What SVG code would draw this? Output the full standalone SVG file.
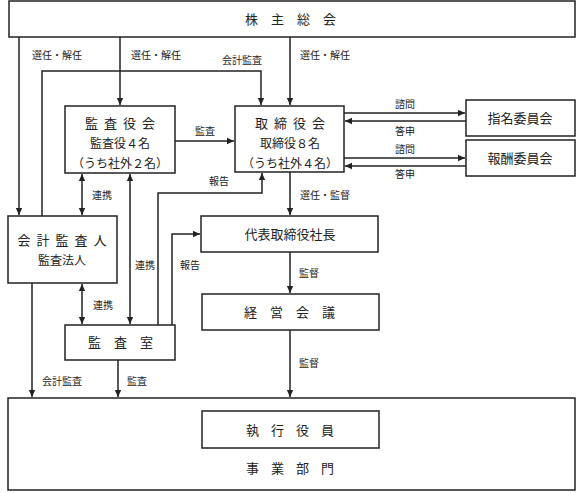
<svg xmlns="http://www.w3.org/2000/svg" width="576" height="493" viewBox="0 0 576 493">
<style>
.box{fill:#fff;stroke:#222;stroke-width:1.5}
.ln{fill:none;stroke:#222;stroke-width:1.5}
text{font-family:"Noto Sans CJK JP","Noto Sans",sans-serif;fill:#222}
.t{font-size:13px;text-anchor:middle}
.s{font-size:12px;text-anchor:middle}
.l{font-size:10px}
</style>
<defs>
<marker id="a" markerUnits="userSpaceOnUse" markerWidth="8" markerHeight="8" refX="7" refY="4" orient="auto-start-reverse">
<path d="M0,0.8 L7,4 L0,7.2 Z" fill="#222"/>
</marker>
</defs>
<rect width="576" height="493" fill="#fff"/>
<g id="kabunushi"><rect class="box" x="9" y="1" width="566" height="36"/><text class="t" x="297" y="24" letter-spacing="13">株主総会</text></g>
<g id="kansayakukai"><rect class="box" x="65" y="106" width="110" height="67"/><text class="t" x="123" y="128" letter-spacing="6">監査役会</text><text class="s" x="120" y="148">監査役４名</text><text class="s" x="120" y="168">（うち社外２名）</text></g>
<g id="torishimariyakukai"><rect class="box" x="235" y="106" width="109" height="66"/><text class="t" x="293" y="128" letter-spacing="6">取締役会</text><text class="s" x="290" y="148">取締役８名</text><text class="s" x="290" y="168">（うち社外４名）</text></g>
<g id="shimei"><rect class="box" x="466" y="100" width="109" height="36"/><text class="t" x="520" y="123">指名委員会</text></g>
<g id="hoshu"><rect class="box" x="466" y="140" width="109" height="36"/><text class="t" x="520" y="163">報酬委員会</text></g>
<g id="kaikeikansanin"><rect class="box" x="8" y="216" width="109" height="67"/><text class="t" x="65" y="245" letter-spacing="6">会計監査人</text><text class="s" x="62" y="265">監査法人</text></g>
<g id="daihyo"><rect class="box" x="201" y="216" width="177" height="36"/><text class="t" x="290" y="239">代表取締役社長</text></g>
<g id="keiei"><rect class="box" x="202" y="294" width="177" height="36"/><text class="t" x="296" y="317" letter-spacing="13">経営会議</text></g>
<g id="kansashitsu"><rect class="box" x="65" y="325" width="110" height="35"/><text class="t" x="127" y="347" letter-spacing="13">監査室</text></g>
<g id="jigyobumon"><rect class="box" x="8" y="398" width="567" height="92"/><rect class="box" x="202" y="411" width="177" height="37"/><text class="t" x="296" y="435" letter-spacing="12">執行役員</text><text class="t" x="296" y="473" letter-spacing="12">事業部門</text></g>
<g id="connectors" class="ln">
<path class="ln" d="M19,37 V215" marker-end="url(#a)"/>
<path class="ln" d="M120,37 V105" marker-end="url(#a)"/>
<path class="ln" d="M290,37 V105" marker-end="url(#a)"/>
<path class="ln" d="M42,216 V71 H261 V105" marker-end="url(#a)"/>
<path class="ln" d="M175,141 H234" marker-end="url(#a)"/>
<path class="ln" d="M344,113 H465" marker-end="url(#a)"/>
<path class="ln" d="M466,121 H345" marker-end="url(#a)"/>
<path class="ln" d="M344,158 H465" marker-end="url(#a)"/>
<path class="ln" d="M466,166 H345" marker-end="url(#a)"/>
<path class="ln" d="M290,172 V215" marker-end="url(#a)"/>
<path class="ln" d="M290,252 V293" marker-end="url(#a)"/>
<path class="ln" d="M290,330 V397" marker-end="url(#a)"/>
<path class="ln" d="M82,174 V215" marker-start="url(#a)" marker-end="url(#a)"/>
<path class="ln" d="M82,284 V324" marker-start="url(#a)" marker-end="url(#a)"/>
<path class="ln" d="M130,174 V324" marker-start="url(#a)" marker-end="url(#a)"/>
<path class="ln" d="M158,325 V193 H262 V173" marker-end="url(#a)"/>
<path class="ln" d="M172,325 V234 H200" marker-end="url(#a)"/>
<path class="ln" d="M118,360 V397" marker-end="url(#a)"/>
<path class="ln" d="M32,283 V397" marker-end="url(#a)"/>
</g>
<g id="labels" class="l">
<text class="l" x="32" y="59">選任・解任</text>
<text class="l" x="131" y="59">選任・解任</text>
<text class="l" x="222" y="64">会計監査</text>
<text class="l" x="300" y="59">選任・解任</text>
<text class="l" x="195" y="135">監査</text>
<text class="l" x="395" y="108">諮問</text>
<text class="l" x="395" y="135">答申</text>
<text class="l" x="395" y="153">諮問</text>
<text class="l" x="395" y="178">答申</text>
<text class="l" x="300" y="199">選任・監督</text>
<text class="l" x="92" y="199">連携</text>
<text class="l" x="209" y="185">報告</text>
<text class="l" x="135" y="269">連携</text>
<text class="l" x="180" y="269">報告</text>
<text class="l" x="93" y="309">連携</text>
<text class="l" x="299" y="277">監督</text>
<text class="l" x="299" y="367">監督</text>
<text class="l" x="42" y="385">会計監査</text>
<text class="l" x="127" y="385">監査</text>
</g>
</svg>
